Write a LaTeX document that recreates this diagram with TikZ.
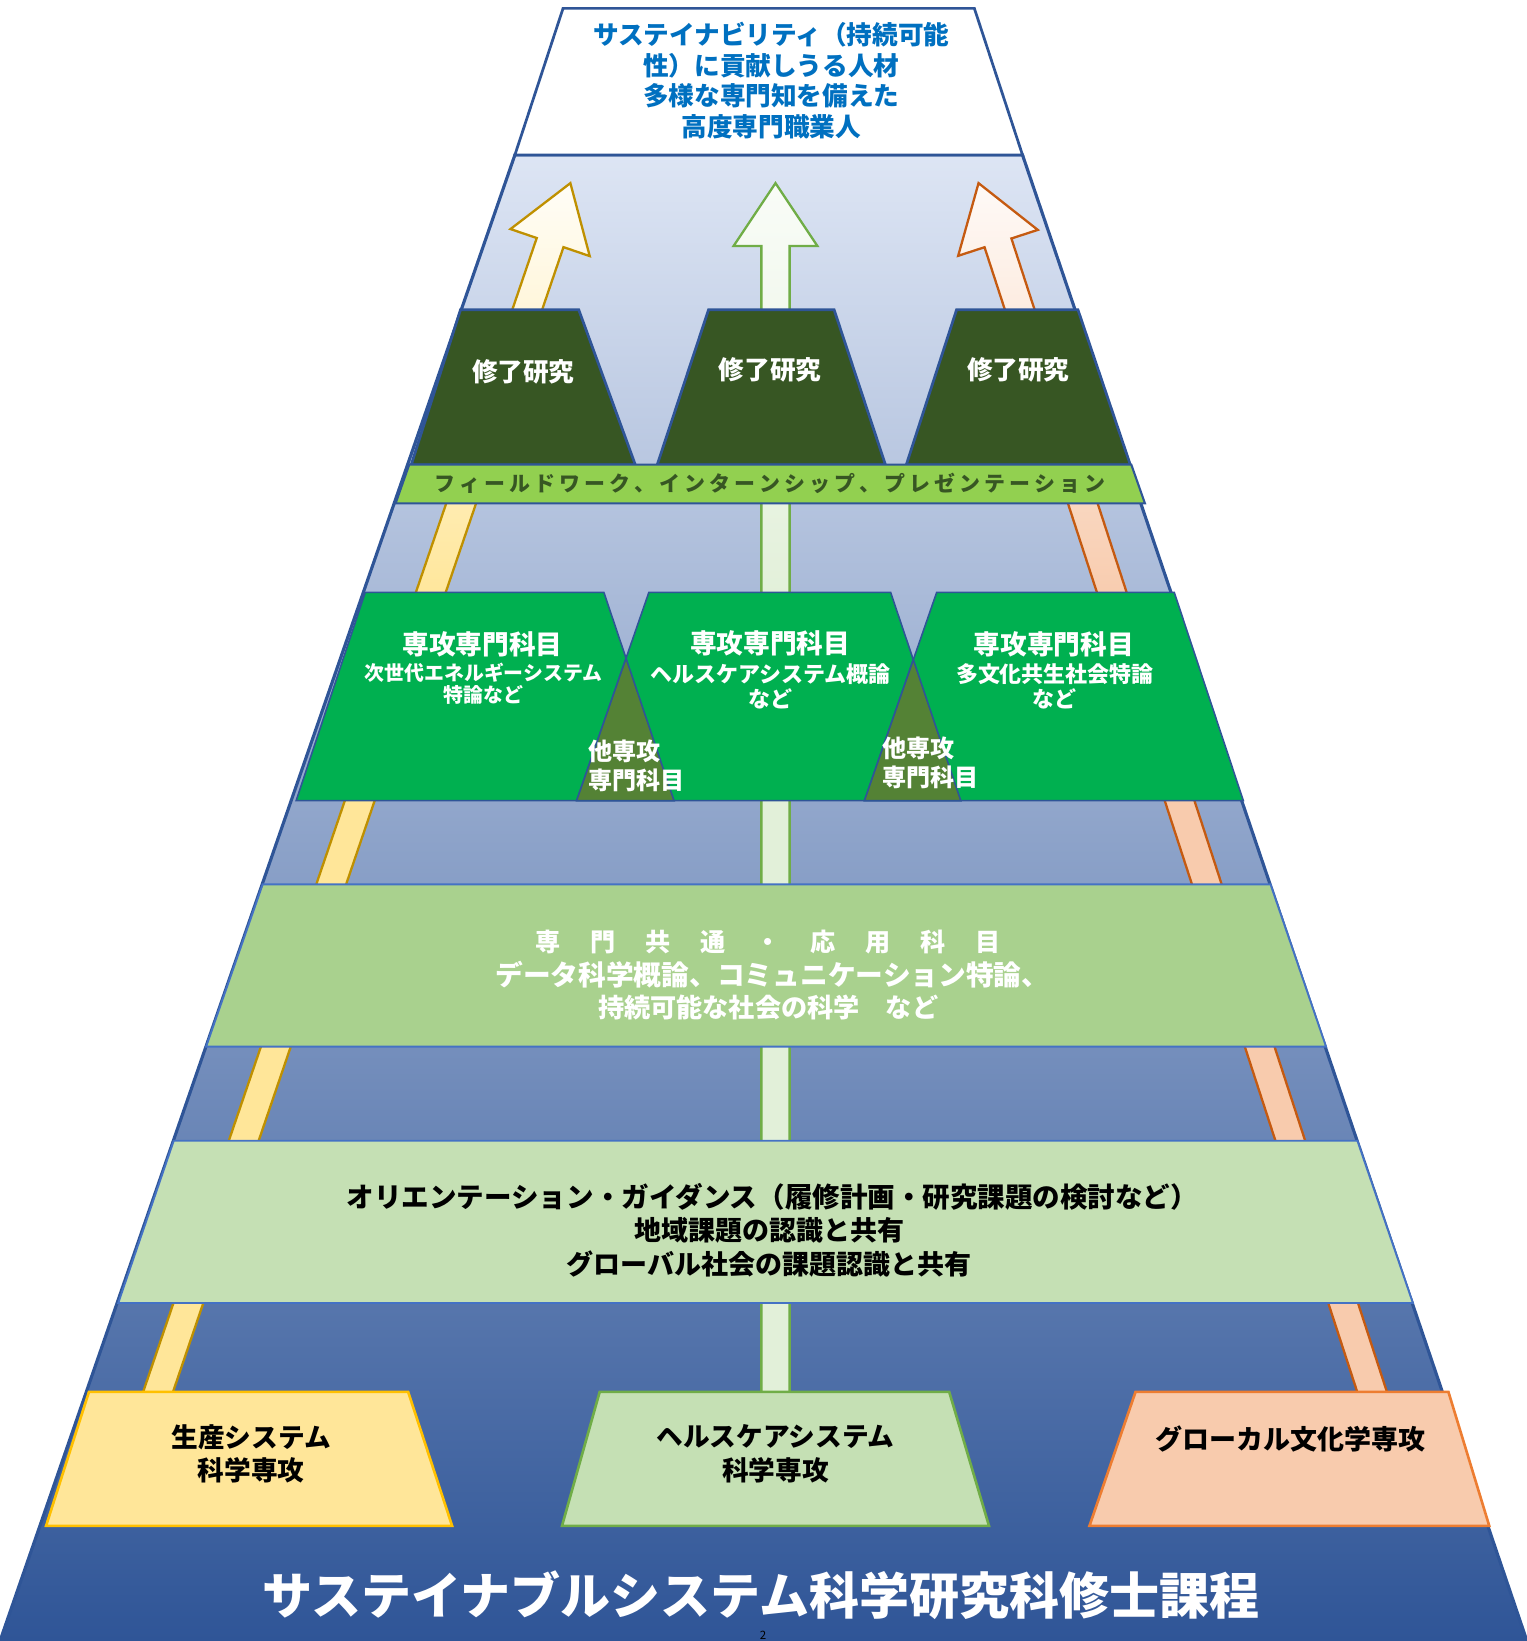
\documentclass[tikz,border=0pt]{standalone}
\usepackage{fontspec}
\setmainfont{Noto Sans CJK JP}
\usetikzlibrary{calc}
\definecolor{pyr}{HTML}{2F5597}
\definecolor{bgtop}{HTML}{DDE5F4}
\definecolor{topblue}{HTML}{0070C0}
\definecolor{darkgr}{HTML}{375623}
\definecolor{limegr}{HTML}{92D050}
\definecolor{majgr}{HTML}{00B050}
\definecolor{trigr}{HTML}{548235}
\definecolor{midgr}{HTML}{A9D18E}
\definecolor{palegr}{HTML}{C5E0B4}
\definecolor{bandline}{HTML}{4472C4}
\definecolor{yelfill}{HTML}{FFE699}
\definecolor{yelline}{HTML}{FFC000}
\definecolor{yelarrow}{HTML}{BF9000}
\definecolor{grline}{HTML}{70AD47}
\definecolor{grarrow}{HTML}{E2F0D9}
\definecolor{orfill}{HTML}{F8CBAD}
\definecolor{orline}{HTML}{ED7D31}
\definecolor{orarrow}{HTML}{C55A11}
\colorlet{yeltop}{white!92!yelfill}
\colorlet{grtop}{white!80!grarrow}
\colorlet{ortop}{white!90!orfill}
\pgfdeclareverticalshading{yelsh}{100bp}{color(0bp)=(yelfill); color(25bp)=(yelfill); color(58bp)=(yelfill); color(75bp)=(yeltop); color(100bp)=(yeltop)}
\pgfdeclareverticalshading{grsh}{100bp}{color(0bp)=(grarrow); color(25bp)=(grarrow); color(58bp)=(grarrow); color(75bp)=(grtop); color(100bp)=(grtop)}
\pgfdeclareverticalshading{orsh}{100bp}{color(0bp)=(orfill); color(25bp)=(orfill); color(58bp)=(orfill); color(75bp)=(ortop); color(100bp)=(ortop)}
\newcommand\fsz[1]{\fontsize{#1}{#1}\selectfont}
\makeatletter
\def\trk#1#2{\def\trk@k{#1}\trk@loop#2\trk@end\kern-#1}
\let\trk@end\relax
\def\trk@loop#1{\ifx\trk@end#1\else#1\kern\trk@k\expandafter\trk@loop\fi}
\makeatother
\newcommand\fatarrow[4]{%
  \path ($(#2)!60pt!(#1)$) coordinate (#2-b);
  \shadedraw[shading=#3, draw=#4, line width=2.2pt, line join=miter]
    ($(#1)!13.5pt!90:(#2)$) -- ($(#2-b)!13.5pt!-90:(#1)$) -- ($(#2-b)!40pt!-90:(#1)$) -- (#2)
    -- ($(#2-b)!40pt!90:(#1)$) -- ($(#2-b)!13.5pt!90:(#1)$) -- ($(#1)!13.5pt!-90:(#2)$);
}
\begin{document}
\begin{tikzpicture}[x=1pt,y=-1pt,
  lbl/.style={inner sep=0pt, font=\bfseries},
  box/.style={draw=pyr, line width=1.5pt, line join=miter},
  thick box/.style={draw=pyr, line width=2.6pt, line join=miter}]
\useasboundingbox (0,0) rectangle (1459,1568);
% pyramid background
\shade[top color=bgtop, bottom color=pyr] (492,148) -- (977,148) -- (1459,1568) -- (0,1568) -- cycle;
\draw[pyr, line width=3pt] (0,1568) -- (492,148) -- (977,148) -- (1459,1568);
% arrows
\coordinate (lt) at (140.8,1360); \coordinate (lh) at (545,175);
\coordinate (mt) at (741,1360); \coordinate (mh) at (741,175);
\coordinate (rt) at (1320.8,1360); \coordinate (rh) at (935,175);
\fatarrow{lt}{lh}{yelsh}{yelarrow}
\fatarrow{mt}{mh}{grsh}{grline}
\fatarrow{rt}{rh}{orsh}{orarrow}
% top white box
\filldraw[fill=white, thick box] (538,8) -- (931,8) -- (977,148) -- (492,148) -- cycle;
\node[lbl, text=topblue, align=center, font=\bfseries\fontsize{24.5}{29.3}\selectfont] (goal) at (737,77) {サステイナビリティ（持続可能\\性）に貢献しうる人材\\多様な専門知を備えた\\高度専門職業人};
% 修了研究
\filldraw[fill=darkgr, thick box] (440,296) -- (553,296) -- (607,444) -- (393,444) -- cycle;
\filldraw[fill=darkgr, thick box] (677,296) -- (797,296) -- (846,444) -- (628,444) -- cycle;
\filldraw[fill=darkgr, thick box] (914,296) -- (1030,296) -- (1080,444) -- (866,444) -- cycle;
\node[lbl, text=white, font=\bfseries\fsz{24.5}] (res1) at (500,355) {修了研究};
\node[lbl, text=white, font=\bfseries\fsz{24.5}] (res2) at (736,353) {修了研究};
\node[lbl, text=white, font=\bfseries\fsz{24.5}] (res3) at (973,353) {修了研究};
% fieldwork band
\filldraw[fill=limegr, box, line width=2pt] (391,444) -- (1081,444) -- (1094,481) -- (378,481) -- cycle;
\node[lbl, text=darkgr, font=\bfseries\fsz{20}] (field) at (736,462) {\trk{3.9pt}{フィールドワーク、インターンシップ、プレゼンテーション}};
% 専攻専門科目 boxes
\filldraw[fill=majgr, box] (349,566) -- (577,566) -- (644,765) -- (283,765) -- cycle;
\filldraw[fill=majgr, box] (620,566) -- (851,566) -- (918,765) -- (551,765) -- cycle;
\filldraw[fill=majgr, box] (895,566) -- (1122,566) -- (1188,765) -- (826,765) -- cycle;
\filldraw[fill=trigr, box] (598.2,629) -- (644,765) -- (551,765) -- cycle;
\filldraw[fill=trigr, box] (872.7,630.4) -- (918,765) -- (826,765) -- cycle;
\node[lbl, text=white, font=\bfseries\fsz{25.5}] (m1) at (461,616) {専攻専門科目};
\node[lbl, text=white, font=\bfseries\fsz{19}] (m1a) at (462,643) {次世代エネルギーシステム};
\node[lbl, text=white, font=\bfseries\fsz{19}] (m1b) at (462,664) {特論など};
\node[lbl, text=white, font=\bfseries\fsz{25.5}] (m2) at (736,615) {専攻専門科目};
\node[lbl, text=white, font=\bfseries\fsz{21}] (m2a) at (736,644) {ヘルスケアシステム概論};
\node[lbl, text=white, font=\bfseries\fsz{21}] (m2b) at (736,668) {など};
\node[lbl, text=white, font=\bfseries\fsz{25.5}] (m3) at (1007,616) {専攻専門科目};
\node[lbl, text=white, font=\bfseries\fsz{21}] (m3a) at (1008,644) {多文化共生社会特論};
\node[lbl, text=white, font=\bfseries\fsz{21}] (m3b) at (1008,668) {など};
\node[lbl, text=white, anchor=west, align=left, font=\bfseries\fontsize{23}{28}\selectfont] (o1) at (562,732) {他専攻\\専門科目};
\node[lbl, text=white, anchor=west, align=left, font=\bfseries\fontsize{23}{28}\selectfont] (o2) at (843,729) {他専攻\\専門科目};
% 専門共通・応用科目 band
\filldraw[fill=midgr, draw=bandline, line width=1.8pt] (251,845) -- (1214,845) -- (1267,1000) -- (197,1000) -- cycle;
\node[lbl, text=white, font=\bfseries\fsz{24}] (c1) at (734,900) {\trk{28.5pt}{専門共通・応用科目}};
\node[lbl, text=white, font=\bfseries\fsz{26.5}] (c2) at (738,931) {データ科学概論、コミュニケーション特論、};
\node[lbl, text=white, font=\bfseries\fsz{25}] (c3) at (734,963) {持続可能な社会の科学　など};
% orientation band
\filldraw[fill=palegr, draw=bandline, line width=1.8pt] (166,1090) -- (1297,1090) -- (1350,1245) -- (113,1245) -- cycle;
\node[lbl, text=black, font=\bfseries\fsz{26.3}] (g1) at (738,1144) {オリエンテーション・ガイダンス（履修計画・研究課題の検討など）};
\node[lbl, text=black, font=\bfseries\fsz{25.8}] (g2) at (735,1176) {地域課題の認識と共有};
\node[lbl, text=black, font=\bfseries\fsz{25.8}] (g3) at (735,1208) {グローバル社会の課題認識と共有};
% bottom boxes
\filldraw[fill=yelfill, draw=yelline, line width=2.5pt] (85,1330) -- (390,1330) -- (432,1458) -- (44,1458) -- cycle;
\filldraw[fill=palegr, draw=grline, line width=2.5pt] (573,1330) -- (907,1330) -- (945,1458) -- (537,1458) -- cycle;
\filldraw[fill=orfill, draw=orline, line width=2.5pt] (1085,1330) -- (1384,1330) -- (1423,1458) -- (1041,1458) -- cycle;
\node[lbl, text=black, align=center, font=\bfseries\fontsize{25.5}{32}\selectfont] (d1) at (240,1389) {生産システム\\科学専攻};
\node[lbl, text=black, align=center, font=\bfseries\fontsize{25.5}{32}\selectfont] (d2) at (741,1389) {ヘルスケアシステム\\科学専攻};
\node[lbl, text=black, font=\bfseries\fsz{25.8}] (d3) at (1233,1375) {グローカル文化学専攻};
% title
\node[lbl, text=white, font=\bfseries\fsz{47.8}] (title) at (727,1524) {サステイナブルシステム科学研究科修士課程};
\node[inner sep=0pt, anchor=south, font=\fsz{11}] (pg) at (729,1566.5) {2};
\end{tikzpicture}
\end{document}
